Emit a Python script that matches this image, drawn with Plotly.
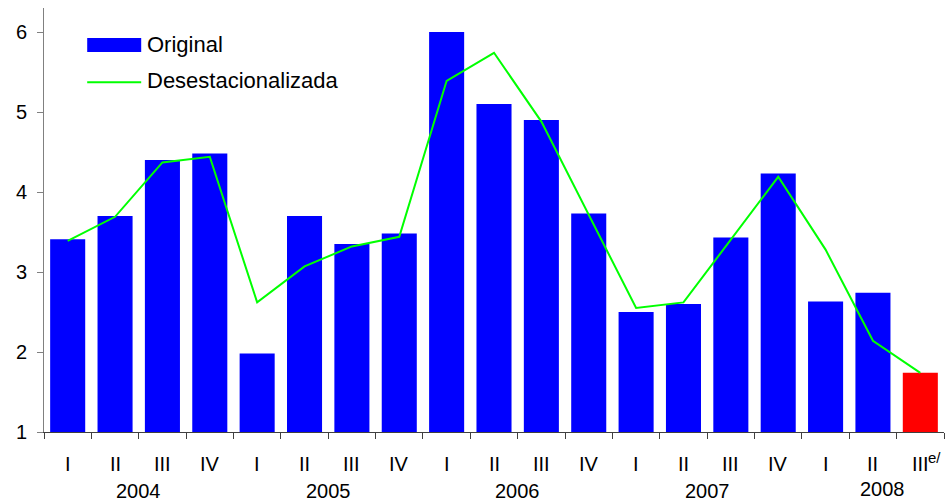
import plotly.graph_objects as go

quarters = ["I", "II", "III", "IV", "I", "II", "III", "IV", "I", "II", "III", "IV",
            "I", "II", "III", "IV", "I", "II", "III"]
years = ["2004", "2005", "2006", "2007", "2008"]
year_of = [0]*4 + [1]*4 + [2]*4 + [3]*4 + [4]*3
original = [3.41, 3.70, 4.40, 4.48, 1.98, 3.70, 3.35, 3.48, 6.00, 5.10, 4.90, 3.73,
            2.50, 2.60, 3.43, 4.23, 2.63, 2.74, 1.74]
desest = [3.39, 3.69, 4.37, 4.44, 2.62, 3.07, 3.32, 3.44, 5.39, 5.74, 4.88, 3.71,
          2.55, 2.62, 3.40, 4.19, 3.28, 2.14, 1.74]

x = list(range(len(original)))
bar_colors = ["#0000FF"] * (len(original) - 1) + ["#FF0000"]
FONT = "Liberation Sans, Arial, sans-serif"

fig = go.Figure()
fig.add_trace(go.Bar(x=x, y=[v - 1 for v in original], base=1, width=0.74,
                     marker=dict(color=bar_colors, line=dict(width=0)),
                     name="Original", showlegend=False))
fig.add_trace(go.Scatter(x=x, y=desest, mode="lines",
                         line=dict(color="#00FF00", width=2),
                         name="Desestacionalizada", showlegend=False))

annotations = []
for i, q in enumerate(quarters):
    annotations.append(dict(x=i, y=0, xref="x", yref="paper", text=q, showarrow=False,
                            yanchor="middle", yshift=-32, borderpad=0,
                            font=dict(size=20, color="black")))
annotations.append(dict(x=len(quarters) - 1, y=0, xref="x", yref="paper", text="e/",
                        showarrow=False, xanchor="left", xshift=7, yshift=-25,
                        yanchor="middle", borderpad=0,
                        font=dict(size=15, color="black")))
for k, yr in enumerate(years):
    idx = [i for i, g in enumerate(year_of) if g == k]
    cx = sum(idx) / len(idx)
    if k == len(years) - 1:
        cx += 0.2
    annotations.append(dict(x=cx, y=0, xref="x", yref="paper", text=yr, showarrow=False,
                            yanchor="middle", borderpad=0,
                            yshift=-59 + (2 if k == len(years) - 1 else 0),
                            font=dict(size=20, color="black")))

# manual legend
annotations.append(dict(x=0.113, y=0.915, xref="paper", yref="paper", text="Original",
                        showarrow=False, xanchor="left", yanchor="middle", borderpad=0,
                        font=dict(size=22, color="black")))
annotations.append(dict(x=0.113, y=0.830, xref="paper", yref="paper", text="Desestacionalizada",
                        showarrow=False, xanchor="left", yanchor="middle", borderpad=0,
                        font=dict(size=22, color="black")))
shapes = [
    dict(type="rect", xref="paper", yref="paper", x0=0.048, x1=0.108, y0=0.896, y1=0.929,
         fillcolor="#0000FF", line=dict(width=0)),
    dict(type="line", xref="paper", yref="paper", x0=0.048, x1=0.108, y0=0.825, y1=0.825,
         line=dict(color="#00FF00", width=2)),
]

fig.update_layout(
    width=946, height=504,
    margin=dict(l=44, r=2, t=8, b=72, autoexpand=False),
    paper_bgcolor="white", plot_bgcolor="white",
    font=dict(family=FONT, size=20, color="black"),
    annotations=annotations, shapes=shapes,
    showlegend=False,
)
fig.update_xaxes(range=[-0.5, 18.5], tickvals=[i - 0.5 for i in range(len(quarters) + 1)],
                 ticktext=[""] * (len(quarters) + 1), ticks="outside", ticklen=6,
                 tickcolor="#404040", showline=True, linecolor="#404040", linewidth=1,
                 showgrid=False, zeroline=False, fixedrange=True)
fig.update_yaxes(range=[1, 6.3], tickvals=[1, 2, 3, 4, 5, 6], ticks="outside", ticklen=6,
                 tickcolor="#808080", showline=True, linecolor="#808080", linewidth=1,
                 showgrid=False, zeroline=False, ticklabelstandoff=6,
                 tickfont=dict(size=20, color="black"))

fig.write_html("out.html", config={"displayModeBar": False},
               post_script="document.body.style.margin='0px';document.body.style.overflow='hidden';")
